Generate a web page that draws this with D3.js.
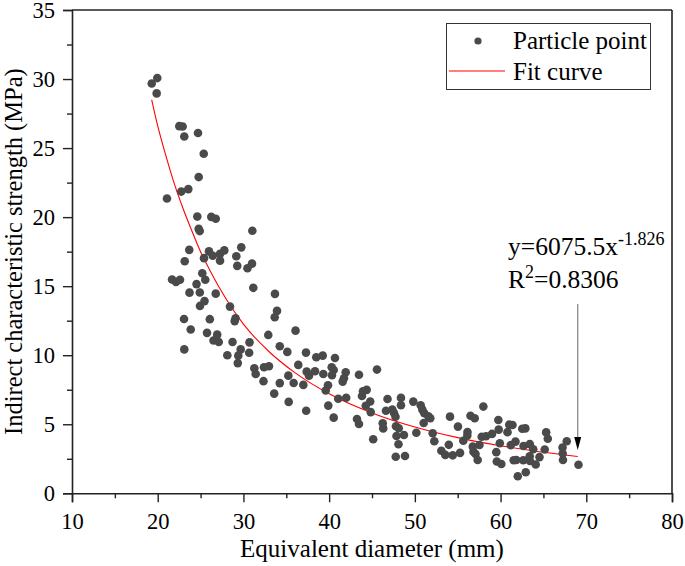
<!DOCTYPE html>
<html>
<head>
<meta charset="utf-8">
<script src="https://cdn.jsdelivr.net/npm/d3@7"></script>
<style>
  html, body { margin: 0; padding: 0; background: #fff; }
  svg, svg text { font-family: "Liberation Serif", "Times New Roman", serif; }
</style>
</head>
<body>
<svg id="chart" width="685" height="566"></svg>
<script>
// ---- data ----
const particleX = [19.30,19.95,19.88,22.52,22.91,23.10,24.70,25.37,24.78,22.75,23.57,21.08,24.62,26.25,26.77,24.78,24.90,31.04,23.68,25.98,27.77,29.75,23.15,25.40,26.42,27.27,27.27,29.17,29.28,30.47,31.00,25.20,21.67,22.13,22.60,25.55,24.53,23.71,24.91,26.77,25.46,24.93,28.43,29.08,28.98,23.07,26.08,23.85,25.75,26.94,26.51,27.12,28.73,23.10,29.68,29.40,28.12,29.34,30.67,30.71,31.15,33.68,33.92,33.65,32.90,36.08,34.24,35.12,37.30,38.50,39.25,40.68,31.27,31.43,32.40,32.98,36.40,35.24,37.38,37.65,38.35,39.32,40.30,40.53,40.33,41.93,41.73,41.58,43.48,45.58,32.34,34.24,35.86,36.99,39.87,39.60,33.59,35.28,37.32,39.90,40.53,41.06,41.99,43.83,43.95,44.38,44.79,44.27,44.85,43.25,43.48,46.81,46.25,46.31,46.63,47.37,47.57,47.74,45.14,47.80,47.86,48.09,47.77,48.38,48.38,48.12,48.73,48.85,49.82,50.68,50.87,51.10,51.57,51.80,51.03,50.17,52.08,52.27,54.10,55.03,53.09,53.55,54.42,53.96,55.27,56.14,56.12,55.65,56.49,56.98,56.76,57.54,56.84,57.08,57.33,57.99,57.80,58.30,59.00,59.50,59.56,60.09,59.74,59.78,60.81,61.01,61.39,59.91,61.19,61.74,61.53,61.84,62.65,62.01,62.94,62.53,62.89,62.68,63.41,63.40,64.10,64.54,63.43,63.81,65.15,65.32,65.51,67.23,67.25,67.28,67.72,69.09];
const particleY = [29.68,30.07,28.96,26.59,26.56,25.84,26.09,24.59,22.90,21.85,22.03,21.35,20.04,20.02,19.88,19.15,18.99,19.01,17.63,17.52,17.59,17.81,16.80,17.03,17.20,17.34,16.85,17.17,16.47,16.30,16.63,15.93,15.48,15.31,15.46,15.46,15.15,14.53,14.54,14.46,13.92,13.57,13.52,12.67,12.47,12.62,12.61,11.86,11.62,11.49,11.07,10.96,10.96,10.42,10.42,9.97,10.00,9.43,10.18,10.93,14.88,14.44,13.21,12.75,11.47,11.78,10.65,10.24,10.19,9.85,9.97,9.80,9.06,8.64,9.13,9.20,9.30,8.52,8.81,8.52,8.84,8.64,9.13,8.93,8.55,8.77,8.33,8.09,8.59,8.96,8.12,7.98,7.99,7.85,7.83,7.45,7.22,6.62,5.98,6.35,5.48,6.85,6.92,7.05,7.39,7.49,6.65,6.34,5.88,5.38,5.02,6.83,5.07,4.70,5.98,6.07,5.82,5.54,3.91,4.86,4.15,3.55,2.65,6.91,6.38,4.71,4.22,2.70,6.64,6.38,6.06,5.80,5.58,5.43,5.09,4.39,4.35,3.77,5.55,4.83,3.08,2.78,2.75,3.51,2.93,4.44,4.19,3.81,5.62,5.43,3.38,3.50,3.01,2.85,2.41,6.28,4.09,4.13,4.30,2.98,2.30,2.12,5.31,4.61,4.43,4.97,4.95,3.62,3.49,3.74,2.39,2.41,2.39,1.24,1.52,4.67,4.70,3.43,3.56,2.68,2.09,2.62,2.34,3.19,3.17,4.41,3.95,3.32,2.88,2.41,3.77,2.07];

// fit curve as drawn in the picture
const fitX = [19.3,20,21,22,23,24,25,26,28,30,33,36,40,45,50,55,60,65,69];
const fitY = [28.5,26.6,24.35,22.3,20.55,18.98,17.5,16.25,14.05,12.25,10.25,8.74,7.21,5.82,4.80,4.03,3.44,2.97,2.66];

const xMajor = [10,20,30,40,50,60,70,80];
const xMinor = [15,25,35,45,55,65,75];
const yMajor = [0,5,10,15,20,25,30,35];
const yMinor = [2.5,7.5,12.5,17.5,22.5,27.5,32.5];

const xTitle = "Equivalent diameter (mm)";
const yTitle = "Indirect characteristic strength (MPa)";
const legendLabels = ["Particle point", "Fit curve"];
const eqMain = "y=6075.5x", eqExp = "-1.826";
const r2Value = "=0.8306";
const arrowFrom = [69, 13.7], arrowTo = [69, 3.14];

// ---- layout ----
const FONT = '"Liberation Serif", "Times New Roman", serif';
const L = 72, R = 672, T = 10, B = 493.3;
const svg = d3.select("#chart");
const x = d3.scaleLinear().domain([10, 80]).range([L, R]);
const y = d3.scaleLinear().domain([0, 35]).range([B, T]);

const ink = "#000";
const tickFont = 22.5;

// frame (top & right)
svg.append("line").attr("x1", L).attr("x2", R).attr("y1", T).attr("y2", T)
  .attr("stroke", "#222").attr("stroke-width", 1.6);
svg.append("line").attr("x1", R).attr("x2", R).attr("y1", T).attr("y2", B)
  .attr("stroke", "#222").attr("stroke-width", 1.6);

// x axis
const gx = svg.append("g").attr("transform", `translate(0,${B})`);
gx.call(d3.axisBottom(x).tickValues(xMajor).tickSize(9).tickPadding(11).tickFormat(d3.format("d")));
const gxm = svg.append("g").attr("transform", `translate(0,${B})`);
gxm.call(d3.axisBottom(x).tickValues(xMinor).tickSize(5).tickFormat(""));
gxm.select(".domain").remove();

// y axis
const gy = svg.append("g").attr("transform", `translate(${L},0)`);
gy.call(d3.axisLeft(y).tickValues(yMajor).tickSize(9).tickPadding(8).tickFormat(d3.format("d")));
const gym = svg.append("g").attr("transform", `translate(${L},0)`);
gym.call(d3.axisLeft(y).tickValues(yMinor).tickSize(5).tickFormat(""));
gym.select(".domain").remove();

svg.selectAll("g").attr("font-family", null);
svg.selectAll(".domain").attr("stroke", "#222").attr("stroke-width", 1.6);
svg.selectAll(".tick line").attr("stroke", "#222").attr("stroke-width", 1.4);
svg.selectAll(".tick text").style("font-family", FONT)
  .style("font-size", tickFont + "px").attr("fill", ink);

// axis titles
svg.append("text").attr("x", (L + R) / 2).attr("y", 557)
  .attr("text-anchor", "middle").style("font-family", FONT).style("font-size", "25px").attr("fill", ink).text(xTitle);
svg.append("text").attr("transform", `translate(22,${(T + B) / 2}) rotate(-90)`)
  .attr("text-anchor", "middle").style("font-family", FONT).style("font-size", "24.5px").attr("fill", ink).text(yTitle);

// fit curve
const line = d3.line().x((d, i) => x(fitX[i])).y((d, i) => y(fitY[i])).curve(d3.curveMonotoneX);
svg.append("path").datum(fitX).attr("d", line)
  .attr("fill", "none").attr("stroke", "#ff0000").attr("stroke-width", 1.1);

// points
svg.append("g").selectAll("circle").data(particleX).join("circle")
  .attr("cx", (d) => x(d)).attr("cy", (d, i) => y(particleY[i]))
  .attr("r", 4.3).attr("fill", "#4a4a4a");

// annotation
const ann = svg.append("text").attr("x", 508).attr("y", 255).style("font-family", FONT).style("font-size", "25.5px").attr("fill", ink);
ann.append("tspan").text(eqMain);
ann.append("tspan").style("font-size", "18px").attr("dy", -10).text(eqExp);
const ann2 = svg.append("text").attr("x", 508).attr("y", 288).style("font-family", FONT).style("font-size", "25.5px").attr("fill", ink);
ann2.append("tspan").text("R");
ann2.append("tspan").style("font-size", "18px").attr("dy", -10).text("2");
ann2.append("tspan").attr("dy", 10).text(r2Value);

// arrow
const ax = x(arrowFrom[0]);
svg.append("line").attr("x1", ax).attr("x2", ax).attr("y1", y(arrowFrom[1])).attr("y2", y(arrowTo[1]) - 10)
  .attr("stroke", "#8a8a8a").attr("stroke-width", 1.3);
const tipY = y(arrowTo[1]);
svg.append("path").attr("d", `M${ax},${tipY} L${ax - 3.5},${tipY - 13} L${ax + 3.5},${tipY - 13} Z`)
  .attr("fill", "#000");

// legend
const lg = svg.append("g");
lg.append("rect").attr("x", 446.5).attr("y", 23.5).attr("width", 204).attr("height", 66)
  .attr("fill", "#fff").attr("stroke", "#333").attr("stroke-width", 1);
lg.append("circle").attr("cx", 478).attr("cy", 41).attr("r", 3.6).attr("fill", "#4a4a4a");
lg.append("line").attr("x1", 449).attr("x2", 505).attr("y1", 71).attr("y2", 71)
  .attr("stroke", "#ff0000").attr("stroke-width", 1.1);
lg.append("text").attr("x", 513).attr("y", 49).style("font-family", FONT).style("font-size", "25px").attr("fill", ink).text(legendLabels[0]);
lg.append("text").attr("x", 513).attr("y", 80).style("font-family", FONT).style("font-size", "25px").attr("fill", ink).text(legendLabels[1]);
</script>
</body>
</html>
